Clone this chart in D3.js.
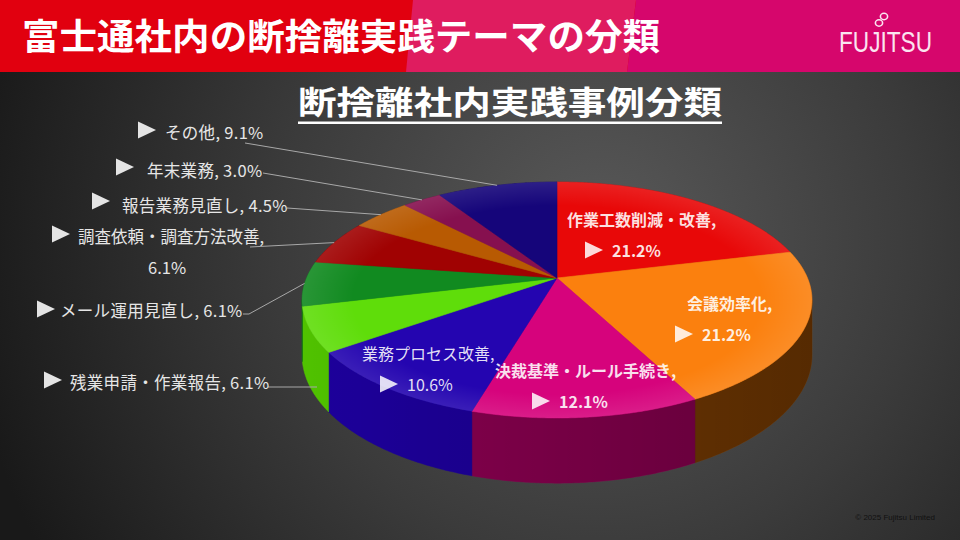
<!DOCTYPE html>
<html><head><meta charset="utf-8">
<script src="https://cdn.jsdelivr.net/npm/d3@7"></script>
<style>html,body{margin:0;padding:0;background:#2a2a2a;overflow:hidden}svg{display:block}</style>
</head><body><svg id="c" width="960" height="540"></svg>
<script>
// ---------------- data ----------------
const mainTitle = "富士通社内の断捨離実践テーマの分類";
const chartTitle = "断捨離社内実践事例分類";
const categories = ["作業工数削減・改善","会議効率化","決裁基準・ルール手続き","業務プロセス改善","残業申請・作業報告","メール運用見直し","調査依頼・調査方法改善","報告業務見直し","年末業務","その他"];
const values = [21.2,21.2,12.1,10.6,6.1,6.1,6.1,4.5,3.0,9.1];
const copyright = "© 2025 Fujitsu Limited";

// ---------------- styles / layout ----------------
const topColors  = ["#e80808","#fb800e","#d6037c","#2405b0","#5fdd0a","#118a20","#a00202","#b85a02","#86104f","#15057a"];
const wallColors = ["#7a0000","#7a3c02","#8a0050","#1d009c","#50c200","#0c6a18","#700000","#804000","#5a0838","#0e0060"];
const labelLayout = [
  {mode:"in", x1:567, y1:219, bold:true,  tx:585, ty:250},
  {mode:"in", x1:687, y1:303, bold:true,  tx:675, ty:334},
  {mode:"in", x1:495, y1:370, bold:true,  tx:532, ty:401},
  {mode:"in", x1:362, y1:353, bold:false, tx:380, ty:384},
  {mode:"out", tx:44, ty:380, x:70, y:382, line:[[268,387],[317,387]], hook:null},
  {mode:"out", tx:37, ty:309, x:60, y:310, line:[[243,314],[249,314]], hook:0},
  {mode:"out", tx:52, ty:234, x:78, y:236, line:[[250,247]], hook:0, wrap:true, x2:148, y2:267},
  {mode:"out", tx:92, ty:201, x:122, y:205, line:[[287,208]], hook:0},
  {mode:"out", tx:116, ty:167, x:147, y:170, line:[[263,173]], hook:0},
  {mode:"out", tx:138, ty:130, x:165, y:132, line:[[245,143]], hook:0}
];
const P = {cx:557, cy:278, R:250.5, S:113.9, k:0.1864, H:53};

const svg = d3.select("#c");
const defs = svg.append("defs");
const FONT = "'Noto Sans CJK JP','Noto Sans',sans-serif";

// background
const bg = defs.append("radialGradient").attr("id","bg").attr("gradientUnits","userSpaceOnUse")
  .attr("cx",600).attr("cy",240).attr("r",640);
bg.append("stop").attr("offset",0).attr("stop-color","#595959");
bg.append("stop").attr("offset",0.5).attr("stop-color","#3b3b3b");
bg.append("stop").attr("offset",1).attr("stop-color","#191919");
svg.append("rect").attr("width",960).attr("height",540).attr("fill","url(#bg)");

// title bar
svg.append("rect").attr("width",960).attr("height",72).attr("fill","#e1000f");
svg.append("polygon").attr("points","413,0 636,0 627,72 406,72").attr("fill","#df1c5f");
svg.append("polygon").attr("points","636,0 960,0 960,72 627,72").attr("fill","#d6066c");
svg.append("text").attr("x",22).attr("y",50).attr("fill","#fff").attr("font-family",FONT)
  .attr("font-weight","bold").attr("font-size",36).attr("textLength",638).attr("lengthAdjust","spacingAndGlyphs")
  .text(mainTitle);
// logo
svg.append("g").attr("transform","translate(839,52) scale(0.78,1)")
  .append("text").attr("x",0).attr("y",0).attr("fill","#fbe4f0")
  .attr("font-family","'Liberation Sans',sans-serif").attr("font-size",29).text("FUJITSU");
const logo = svg.append("g").attr("fill","none").attr("stroke","#fbe4f0").attr("stroke-width",1.6);
logo.append("ellipse").attr("cx",879).attr("cy",23).attr("rx",3.6).attr("ry",3.2);
logo.append("ellipse").attr("cx",884).attr("cy",16.5).attr("rx",3.6).attr("ry",3.2);

// chart title
svg.append("text").attr("x",298).attr("y",114).attr("fill","#fff").attr("font-family",FONT)
  .attr("font-weight","bold").attr("font-size",32).attr("textLength",424).attr("lengthAdjust","spacingAndGlyphs")
  .text(chartTitle);
svg.append("rect").attr("x",298).attr("y",121.5).attr("width",424).attr("height",2.5).attr("fill","#fff");

// ---------------- 3D pie ----------------
const arcs = d3.pie().sort(null).value(d=>d)(values);
function proj(a, r, h){
  const u = r*Math.sin(a), v = -r*Math.cos(a), w = 1 - P.k*v;
  return [P.cx + P.R*u/w, P.cy + P.S*v/w + h*P.H/w];
}
function arcPts(a0,a1,r,h){
  const n = Math.max(2, Math.ceil((a1-a0)/(Math.PI/360)));
  return d3.range(n+1).map(i=>proj(a0+(a1-a0)*i/n, r, h));
}
const line = d3.line();
const aS = Math.acos(-P.k), aE = 2*Math.PI - aS;

// walls
const gW = svg.append("g");
arcs.forEach((d,i)=>{
  const s = Math.max(d.startAngle, aS), e = Math.min(d.endAngle, aE);
  if (e <= s) return;
  const pts = arcPts(s,e,1,0).concat(arcPts(s,e,1,1).reverse());
  gW.append("path").attr("d", line(pts)+"Z").attr("fill", wallColors[i])
    .attr("stroke", wallColors[i]).attr("stroke-width",0.5);
});
const wg = defs.append("linearGradient").attr("id","wg").attr("gradientUnits","userSpaceOnUse")
  .attr("x1",300).attr("x2",815).attr("y1",0).attr("y2",0);
wg.append("stop").attr("offset",0).attr("stop-color","#000").attr("stop-opacity",0);
wg.append("stop").attr("offset",1).attr("stop-color","#000").attr("stop-opacity",0.3);
gW.append("path").attr("d", line(arcPts(aS,aE,1,0).concat(arcPts(aS,aE,1,1).reverse()))+"Z").attr("fill","url(#wg)");

// tops
const gT = svg.append("g");
arcs.forEach((d,i)=>{
  const pts = [proj(0,0,0)].concat(arcPts(d.startAngle,d.endAngle,1,0));
  gT.append("path").attr("d", line(pts)+"Z").attr("fill", topColors[i])
    .attr("stroke", topColors[i]).attr("stroke-width",0.6).attr("stroke-linejoin","round");
});
const tg = defs.append("radialGradient").attr("id","tg");
tg.append("stop").attr("offset",0.8).attr("stop-color","#fff").attr("stop-opacity",0);
tg.append("stop").attr("offset",1).attr("stop-color","#fff").attr("stop-opacity",0.1);
gT.append("path").attr("d", line(arcPts(0,2*Math.PI,1,0))+"Z").attr("fill","url(#tg)");

// ---------------- labels ----------------
function tri(g, x, y, fill){
  g.append("path").attr("d", `M${x},${y-8.5}L${x+18},${y}L${x},${y+8.5}Z`).attr("fill",fill);
}
const gL = svg.append("g").attr("font-family",FONT);
arcs.forEach((d,i)=>{
  const L = labelLayout[i];
  const pct = values[i].toFixed(1)+"%";
  if (L.mode==="in"){
    gL.append("text").attr("x",L.x1).attr("y",L.y1).attr("dominant-baseline","central")
      .attr("font-size",16).attr("font-weight",L.bold?"bold":"normal").attr("fill","#fff").attr("fill-opacity",0.88)
      .text(categories[i]+",");
    tri(gL, L.tx, L.ty, "rgba(255,255,255,0.85)");
    gL.append("text").attr("x",L.tx+27).attr("y",L.ty).attr("dominant-baseline","central")
      .attr("font-size",16).attr("font-weight",L.bold?"bold":"normal").attr("fill","#fff").attr("fill-opacity",0.88)
      .text(pct);
  } else {
    const mid = (d.startAngle+d.endAngle)/2;
    const anchor = proj(mid, 1, L.hook===null ? 0 : L.hook);
    const pts = L.hook===null ? L.line : L.line.concat([anchor]);
    gL.append("path").attr("d", line(pts)).attr("fill","none").attr("stroke","#a8a8a8").attr("stroke-width",1);
    tri(gL, L.tx, L.ty, "#e4e4e4");
    if (L.wrap){
      gL.append("text").attr("x",L.x).attr("y",L.y).attr("dominant-baseline","central")
        .attr("font-size",16.5).attr("fill","#e6e6e6").text(categories[i]+",");
      gL.append("text").attr("x",L.x2).attr("y",L.y2).attr("dominant-baseline","central")
        .attr("font-size",16.5).attr("fill","#e6e6e6").text(pct);
    } else {
      gL.append("text").attr("x",L.x).attr("y",L.y).attr("dominant-baseline","central")
        .attr("font-size",16.5).attr("fill","#e6e6e6").attr("letter-spacing",0.3).text(categories[i]+", "+pct);
    }
  }
});

svg.append("text").attr("x",935).attr("y",520).attr("text-anchor","end").attr("font-family","'Liberation Sans',sans-serif")
  .attr("font-size",8).attr("fill","#111").text(copyright);
</script>
</body></html>
